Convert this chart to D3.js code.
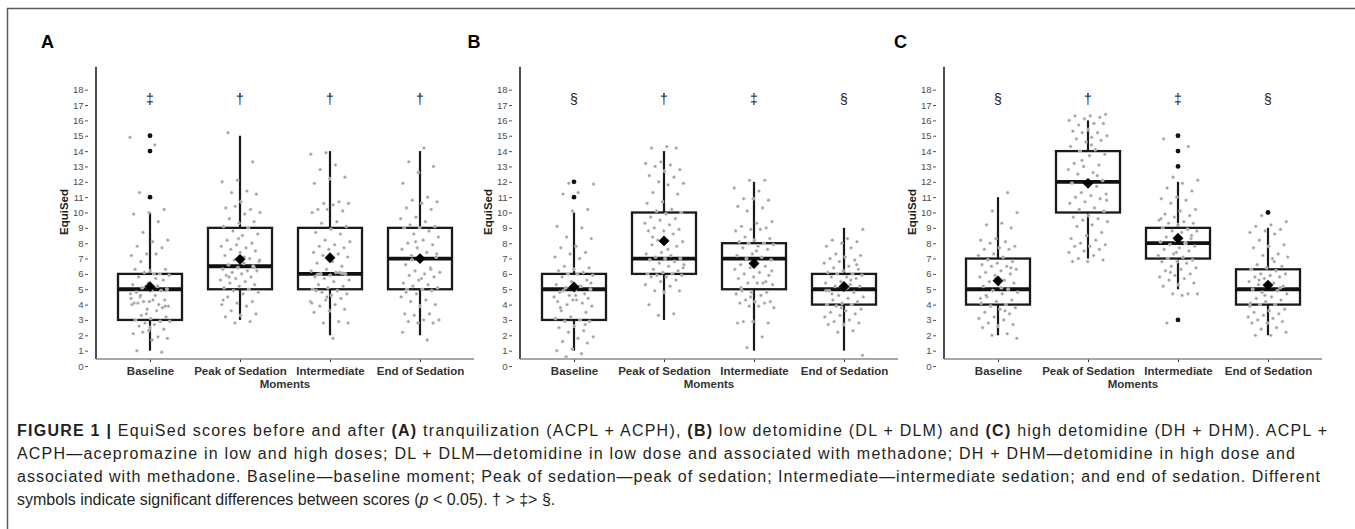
<!DOCTYPE html>
<html><head><meta charset="utf-8">
<script src="https://cdn.jsdelivr.net/npm/d3@7"></script>
<style>body{margin:0;background:#fff}svg{display:block}</style>
</head><body>
<svg id="chart" width="1355" height="529"></svg>
<script>
// ---------------- DATA ----------------
const categories = ["Baseline", "Peak of Sedation", "Intermediate", "End of Sedation"];
const panelLabels = ["A", "B", "C"];
const yTickValues = [0,1,2,3,4,5,6,7,8,9,10,11,12,13,14,15,16,17,18];

const symbolsA = ["‡", "†", "†", "†"];
const symbolsB = ["§", "†", "‡", "§"];
const symbolsC = ["§", "†", "‡", "§"];

const whiskerLowA  = [1, 3, 2, 2];
const q1A          = [3, 5, 5, 5];
const medianA      = [5, 6.5, 6, 7];
const q3A          = [6, 9, 9, 9];
const whiskerHighA = [10, 15, 14, 14];
const meanA        = [5.17, 6.95, 7.05, 7.0];
const outliersA    = [[11, 14, 15], [], [], []];

const whiskerLowB  = [1, 3, 1, 1];
const q1B          = [3, 6, 5, 4];
const medianB      = [5, 7, 7, 5];
const q3B          = [6, 10, 8, 6];
const whiskerHighB = [10, 14, 12, 9];
const meanB        = [5.15, 8.15, 6.68, 5.18];
const outliersB    = [[11, 12], [], [], []];

const whiskerLowC  = [2, 7, 5, 2];
const q1C          = [4, 10, 7, 4];
const medianC      = [5, 12, 8, 5];
const q3C          = [7, 14, 9, 6.3];
const whiskerHighC = [11, 16, 12, 9];
const meanC        = [5.55, 11.9, 8.32, 5.27];
const outliersC    = [[], [], [3, 13, 14, 15], [10]];

const pointsA = [
  [14.9,14.4,11.3,10.2,10.0,9.9,9.4,8.7,8.2,8.1,7.8,7.7,7.3,7.2,7.3,6.8,6.3,6.2,6.3,6.0,6.1,5.9,6.0,5.8,5.6,5.4,5.3,5.2,5.1,5.0,4.9,4.8,4.9,5.2,4.7,4.6,4.5,4.3,4.2,4.1,4.0,4.2,3.9,4.3,4.1,3.8,3.7,4.0,3.6,3.3,3.2,3.1,3.0,2.9,2.8,2.9,2.7,2.6,2.4,2.3,2.1,1.9,2.2,1.8,1.7,1.0,0.9,3.4,4.4,5.7,4.6,3.9,2.5],
  [15.2,13.3,12.1,12.0,11.4,11.3,11.2,10.7,10.3,10.2,10.4,10.0,9.9,9.6,9.4,9.3,9.1,9.0,8.8,8.6,8.5,8.2,8.0,7.9,7.8,7.7,7.6,7.5,7.4,7.2,7.0,6.9,6.8,6.7,6.6,6.5,6.4,6.3,6.2,6.1,6.2,6.0,5.9,5.8,5.7,5.6,5.5,5.4,5.3,5.2,5.1,5.0,4.9,4.8,4.7,4.5,4.2,4.1,4.0,3.9,3.6,3.4,3.3,3.2,2.9,2.8,6.9,7.1,5.8,6.4,8.3,4.3],
  [13.9,13.8,13.1,12.8,12.3,12.2,11.9,10.7,10.6,10.6,10.5,10.2,10.1,10.2,10.0,9.4,9.3,9.1,8.9,8.7,8.6,8.2,8.1,7.9,7.8,7.7,7.6,7.4,7.3,7.2,7.1,6.8,6.7,6.5,6.3,6.2,6.1,6.0,6.0,5.9,5.8,6.1,5.7,5.6,5.5,5.3,5.2,5.1,5.0,4.9,4.8,4.7,4.6,4.9,4.4,4.3,4.2,4.0,3.9,3.7,3.6,3.5,2.9,2.8,2.8,1.8,5.95,6.05,4.5,4.1],
  [14.2,13.3,13.0,12.6,11.9,11.0,10.8,10.7,10.6,10.3,10.2,9.7,9.6,9.4,9.2,9.1,9.0,9.0,8.8,8.6,8.4,8.2,8.0,7.9,7.7,7.6,7.4,7.2,7.1,7.0,6.6,6.4,6.2,6.1,6.0,5.9,5.8,5.6,5.4,5.3,5.2,5.1,5.0,5.0,4.9,4.7,4.5,4.3,4.2,4.0,3.9,3.4,3.4,3.3,3.0,3.0,2.9,2.8,2.8,2.2,1.7,6.9,7.3,5.7,4.8,6.3,8.1]
];
const pointsB = [
  [11.9,11.85,11.3,11.2,10.2,10.1,9.1,9.0,8.4,8.3,7.8,7.7,7.4,7.3,7.1,7.0,6.5,6.4,6.3,6.2,6.1,6.0,5.9,6.0,5.8,5.6,5.5,5.3,5.2,5.1,5.0,4.9,4.8,4.7,4.6,4.5,5.2,4.9,4.4,4.3,4.2,4.1,4.0,3.9,4.3,3.6,3.5,3.2,3.1,3.0,2.9,2.9,2.6,2.5,2.3,2.2,1.9,1.8,1.6,1.5,1.1,1.0,0.8,0.6,5.4,4.6,3.8,2.7],
  [14.3,14.2,14.2,13.3,13.2,13.1,13.0,12.8,12.7,12.4,12.3,12.0,11.9,11.8,11.3,11.2,10.7,10.6,10.2,10.1,10.0,9.9,9.7,9.6,9.5,9.3,9.2,9.0,8.9,8.8,8.8,8.6,8.2,8.1,8.2,7.9,7.8,7.4,7.3,7.2,7.1,7.0,7.0,6.9,6.8,6.7,6.6,6.5,6.3,6.2,6.1,6.0,6.0,5.9,5.9,5.8,5.8,5.6,5.5,5.3,5.2,4.9,4.9,4.8,4.0,3.4,3.3,6.4,7.6,8.4],
  [12.1,12.1,11.6,11.4,10.9,10.8,10.9,10.4,10.3,10.1,9.4,9.3,9.1,9.0,8.9,8.8,8.9,8.4,8.3,8.2,8.1,8.0,8.0,7.9,7.8,7.7,7.6,7.3,7.2,7.1,7.0,6.9,6.7,6.6,6.5,6.4,6.3,6.1,6.0,5.9,5.8,5.7,5.4,5.4,5.3,5.4,4.9,4.8,4.8,4.7,4.6,4.3,4.2,4.2,4.1,4.1,3.9,3.8,3.9,2.9,2.8,2.9,2.8,1.9,1.2,6.2,7.5,5.1,5.5,4.5],
  [8.9,8.3,8.2,8.1,8.0,7.8,7.7,7.3,7.2,7.1,7.0,6.9,6.8,6.7,6.5,6.4,6.3,6.2,6.1,6.0,6.0,5.9,5.8,5.8,5.7,5.5,5.4,5.3,5.2,5.2,5.0,4.9,4.8,4.6,4.5,4.4,4.3,4.2,4.1,4.0,4.0,3.9,3.7,3.6,3.5,3.4,3.3,3.2,3.0,2.9,2.8,2.7,2.7,2.3,2.2,0.7,5.1,4.7,6.6,3.8,4.9,5.6]
];
const pointsC = [
  [11.3,10.1,10.0,9.3,9.2,9.0,8.3,8.2,8.1,8.0,7.8,7.7,7.6,7.6,7.3,7.2,7.1,6.9,6.8,6.7,6.6,6.5,6.5,6.3,6.2,6.1,6.0,5.9,5.8,5.6,5.5,5.4,5.3,5.2,5.0,4.9,4.8,4.7,4.5,4.3,4.2,4.1,4.0,3.9,3.8,3.7,3.5,3.4,3.2,3.1,3.0,2.8,2.7,2.6,2.5,2.1,2.0,1.8,5.1,4.6,6.4,5.7,4.4,3.6],
  [16.4,16.3,16.3,16.2,16.1,16.0,15.8,15.7,15.8,15.4,15.3,15.2,15.2,15.0,14.9,14.8,14.7,14.6,14.3,14.1,14.0,13.8,13.7,13.2,13.1,13.0,12.8,12.6,12.5,12.1,12.0,11.9,11.7,11.3,11.2,11.1,11.0,10.9,10.7,10.6,10.3,10.2,10.1,9.8,9.7,9.6,9.5,9.4,9.2,9.1,8.7,8.5,8.3,8.2,8.0,7.9,7.8,7.8,7.6,7.5,7.4,7.2,7.0,6.9,6.8,6.8,12.4,13.4,10.8,14.4],
  [14.8,14.3,12.3,12.1,11.9,11.6,11.4,11.0,10.9,10.8,10.6,10.2,10.1,9.9,9.8,9.7,9.5,9.4,9.3,9.3,9.2,9.0,8.9,8.8,8.8,8.7,8.4,8.3,8.2,8.1,8.0,7.9,7.8,7.7,7.6,7.5,7.3,7.2,7.1,7.0,6.9,6.8,6.8,6.7,6.5,6.4,6.3,6.2,6.0,5.9,5.8,5.7,5.6,5.4,5.3,5.2,4.7,4.7,4.7,4.6,2.8,8.5,7.4,9.6,8.0,6.1],
  [9.8,9.4,9.2,9.1,8.9,8.8,8.7,8.6,8.2,7.9,7.8,7.7,7.3,7.2,7.1,7.0,6.6,6.5,6.4,6.3,6.2,6.0,6.0,5.9,5.8,5.8,5.7,5.5,5.4,5.3,5.2,5.2,5.0,4.9,4.8,4.7,4.5,4.4,4.3,4.2,4.1,4.0,4.0,3.7,3.6,3.5,3.4,3.3,3.2,3.1,3.0,2.9,2.8,2.8,2.5,2.4,2.2,2.0,2.0,5.1,4.6,3.9,6.8,5.6]
];

// ---------------- BUILD ----------------
const panels = [
  {label: panelLabels[0], lo: whiskerLowA, q1: q1A, med: medianA, q3: q3A, hi: whiskerHighA, mean: meanA, out: outliersA, pts: pointsA, sym: symbolsA},
  {label: panelLabels[1], lo: whiskerLowB, q1: q1B, med: medianB, q3: q3B, hi: whiskerHighB, mean: meanB, out: outliersB, pts: pointsB, sym: symbolsB},
  {label: panelLabels[2], lo: whiskerLowC, q1: q1C, med: medianC, q3: q3C, hi: whiskerHighC, mean: meanC, out: outliersC, pts: pointsC, sym: symbolsC}
];

const svg = d3.select("#chart");
const FONT = "'Liberation Sans', Arial, Helvetica, sans-serif";

// frame
svg.append("line").attr("x1", 7).attr("x2", 1355).attr("y1", 8.5).attr("y2", 8.5)
  .attr("stroke", "#5a5a5a").attr("stroke-width", 1.5);
svg.append("line").attr("x1", 7.5).attr("x2", 7.5).attr("y1", 8).attr("y2", 529)
  .attr("stroke", "#5a5a5a").attr("stroke-width", 1.5);

const y = d3.scaleLinear().domain([0, 18]).range([366, 89.7]);
const axisY = 359;
const boxW = 64;
const jitterHalf = 20;

panels.forEach((P, p) => {
  const ox = 96 + 424 * p;
  const x = d3.scalePoint().domain(categories).range([ox + 54, ox + 324]);
  const g = svg.append("g");

  // panel label
  g.append("text").attr("x", ox - 55 + p * 2.5).attr("y", 47.5)
    .attr("font-family", FONT).attr("font-weight", "bold").attr("font-size", 18)
    .attr("fill", "#000").text(P.label);

  // y axis ticks+labels (offset from axis line)
  const ya = g.append("g").attr("transform", `translate(${ox - 8},0)`)
    .call(d3.axisLeft(y).tickValues(yTickValues).tickSize(3).tickPadding(1.5));
  ya.select(".domain").remove();
  ya.selectAll(".tick line").attr("stroke", "#555").attr("stroke-width", 1);
  ya.selectAll(".tick text").attr("fill", "#4d4d4d").attr("font-size", 9.5).attr("font-family", FONT);

  // y axis line
  g.append("line").attr("x1", ox).attr("x2", ox).attr("y1", y(19.5)).attr("y2", axisY)
    .attr("stroke", "#222").attr("stroke-width", 1.6);

  // x axis
  const xa = g.append("g").attr("transform", `translate(0,${axisY})`)
    .call(d3.axisBottom(x).tickSize(3).tickPadding(5));
  xa.select(".domain").remove();
  xa.selectAll(".tick line").attr("stroke", "#333").attr("stroke-width", 1);
  xa.selectAll(".tick text").attr("fill", "#333").attr("font-size", 11.5)
    .attr("font-weight", "bold").attr("font-family", FONT);
  g.append("line").attr("x1", ox).attr("x2", ox + 378).attr("y1", axisY).attr("y2", axisY)
    .attr("stroke", "#8a8a8a").attr("stroke-width", 1.6);

  // axis titles
  g.append("text").attr("transform", `translate(${ox - 28},212) rotate(-90)`)
    .attr("text-anchor", "middle").attr("font-family", FONT).attr("font-weight", "bold")
    .attr("font-size", 11.5).attr("fill", "#222").text("EquiSed");
  g.append("text").attr("x", ox + 189).attr("y", 387.5).attr("text-anchor", "middle")
    .attr("font-family", FONT).attr("font-weight", "bold").attr("font-size", 11.5)
    .attr("fill", "#333").text("Moments");

  categories.forEach((c, i) => {
    const cx = x(c);
    // whiskers
    g.append("line").attr("x1", cx).attr("x2", cx).attr("y1", y(P.q3[i])).attr("y2", y(P.hi[i]))
      .attr("stroke", "#1a1a1a").attr("stroke-width", 2.2);
    g.append("line").attr("x1", cx).attr("x2", cx).attr("y1", y(P.q1[i])).attr("y2", y(P.lo[i]))
      .attr("stroke", "#1a1a1a").attr("stroke-width", 2.2);
    // box
    g.append("rect").attr("x", cx - boxW / 2).attr("y", y(P.q3[i]))
      .attr("width", boxW).attr("height", y(P.q1[i]) - y(P.q3[i]))
      .attr("fill", "none").attr("stroke", "#1a1a1a").attr("stroke-width", 2.3);
    // median
    g.append("line").attr("x1", cx - boxW / 2).attr("x2", cx + boxW / 2)
      .attr("y1", y(P.med[i])).attr("y2", y(P.med[i]))
      .attr("stroke", "#111").attr("stroke-width", 3.8);
    // outliers
    P.out[i].forEach(v => {
      g.append("circle").attr("cx", cx).attr("cy", y(v)).attr("r", 2.4).attr("fill", "#111");
    });
    // jittered points (deterministic spread)
    P.pts[i].forEach((v, j) => {
      const f = ((j * 0.6180339887 + i * 0.2 + p * 0.37) % 1) * 2 - 1;
      g.append("circle").attr("cx", cx + f * jitterHalf).attr("cy", y(v)).attr("r", 1.6)
        .attr("fill", "#9c9c9c").attr("stroke", "#e6e6e6").attr("stroke-width", 0.6);
    });
    // mean diamond
    const my = y(P.mean[i]);
    g.append("path").attr("d", d3.symbol(d3.symbolDiamond2, 75)())
      .attr("transform", `translate(${cx},${my})`).attr("fill", "#000");
    // significance symbols
    g.append("text").attr("x", cx).attr("y", y(17.4) + 5).attr("text-anchor", "middle")
      .attr("font-family", FONT).attr("font-size", 14)
      .attr("fill", "#1a1a1a").text(P.sym[i]);
  });
});

// ---------------- CAPTION ----------------
const capLines = [
  {y: 435.5, len: 1310, parts: [["FIGURE 1 |", "b"], [" EquiSed scores before and after ", ""], ["(A)", "b"], [" tranquilization (ACPL + ACPH), ", ""], ["(B)", "b"], [" low detomidine (DL + DLM) and ", ""], ["(C)", "b"], [" high detomidine (DH + DHM). ACPL +", ""]]},
  {y: 458.5, len: 1278, parts: [["ACPH\u2014acepromazine in low and high doses; DL + DLM\u2014detomidine in low dose and associated with methadone; DH + DHM\u2014detomidine in high dose and", ""]]},
  {y: 481.5, len: 1303, parts: [["associated with methadone. Baseline\u2014baseline moment; Peak of sedation\u2014peak of sedation; Intermediate\u2014intermediate sedation; and end of sedation. Different", ""]]},
  {y: 504.5, len: null, parts: [["symbols indicate significant differences between scores (", ""], ["p", "i"], [" < 0.05). \u2020 > \u2021> \u00a7.", ""]]}
];
capLines.forEach(L => {
  const t = svg.append("text").attr("x", 17).attr("y", L.y)
    .attr("font-family", FONT).attr("font-size", 16).attr("fill", "#231f20");
  if (L.len) t.attr("textLength", L.len).attr("lengthAdjust", "spacing");
  L.parts.forEach(([s, st]) => {
    const ts = t.append("tspan").text(s);
    if (st === "b") ts.attr("font-weight", "bold");
    if (st === "i") ts.attr("font-style", "italic");
  });
});
</script>
</body></html>
